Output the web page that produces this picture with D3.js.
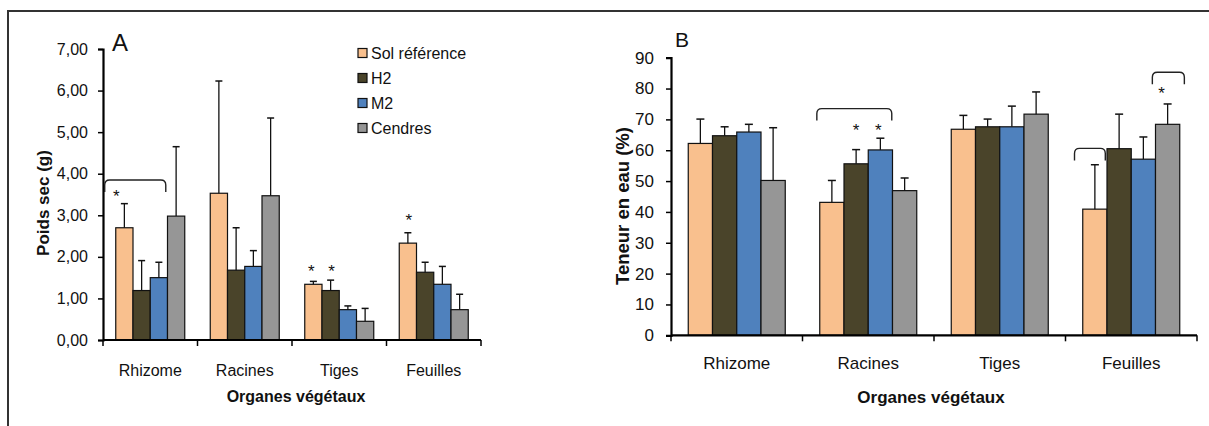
<!DOCTYPE html>
<html><head><meta charset="utf-8">
<script src="https://cdn.jsdelivr.net/npm/d3@7"></script>
<style>
body{margin:0;background:#fff;}
svg text{font-family:"Liberation Sans",Arial,sans-serif;fill:#111;}
</style></head>
<body><svg id="c" width="1209" height="426"></svg>
<script>
// ---------- DATA ----------
const categories = ["Rhizome", "Racines", "Tiges", "Feuilles"];
const seriesNames = ["Sol référence", "H2", "M2", "Cendres"];
const seriesColors = ["#F9C08E", "#4A442A", "#4F81BD", "#969696"];

// Panel A: Poids sec (g) — rows = categories, cols = series
const dryWeight = [
  [2.70, 1.19, 1.50, 2.98],
  [3.53, 1.68, 1.77, 3.47],
  [1.34, 1.19, 0.73, 0.45],
  [2.33, 1.63, 1.34, 0.73]
];
const dryWeightErrTop = [
  [3.28, 1.91, 1.87, 4.65],
  [6.23, 2.70, 2.15, 5.34],
  [1.41, 1.44, 0.82, 0.76],
  [2.58, 1.87, 1.77, 1.10]
];
const yTicksA = [0, 1, 2, 3, 4, 5, 6, 7];

// Panel B: Teneur en eau (%)
const waterContent = [
  [62.2, 64.7, 65.9, 50.2],
  [43.1, 55.6, 60.1, 46.9],
  [66.8, 67.6, 67.6, 71.7],
  [40.9, 60.5, 57.1, 68.4]
];
const waterContentErrTop = [
  [70.1, 67.6, 68.4, 67.3],
  [50.2, 60.2, 63.9, 51.0],
  [71.3, 70.1, 74.3, 78.9],
  [55.3, 71.7, 64.3, 75.0]
];
const yTicksB = [0, 10, 20, 30, 40, 50, 60, 70, 80, 90];

// significance annotations: [category, series index, level, dx]
const starsA = [["Rhizome", 0, 3.53, -8], ["Tiges", 0, 1.73, -2], ["Tiges", 1, 1.73, 1], ["Feuilles", 0, 2.96, 1]];
const starsB = [["Racines", 1, 67.5, 0], ["Racines", 2, 67.5, -2], ["Feuilles", 3, 79.5, -6]];
// brackets: [category, start (in bar widths), end (in bar widths), level]
const bracketsA = [["Rhizome", -0.64, 2.9, 3.85]];
const bracketsB = [["Racines", -0.12, 2.97, 73.5], ["Feuilles", -0.34, 0.93, 60.6], ["Feuilles", 2.87, 4.19, 85.3]];

const svg = d3.select("#c");

// outer frame (top + left)
svg.append("path").attr("d", "M8,426 L8,11 L1209,11")
  .attr("fill", "none").attr("stroke", "#333").attr("stroke-width", 2);

function panel(cfg) {
  const g = svg.append("g");
  const x = d3.scaleBand().domain(categories).range([cfg.x0, cfg.x1]).paddingInner(0).paddingOuter(0);
  const bw = x.bandwidth();
  const groupW = bw * cfg.groupFrac;
  const xs = d3.scaleBand().domain(d3.range(seriesNames.length)).range([(bw - groupW) / 2, (bw + groupW) / 2]);
  const y = d3.scaleLinear().domain(cfg.domain).range([cfg.y0, cfg.y1]);
  const barW = xs.bandwidth();

  // bars
  categories.forEach((c, ci) => {
    const grp = g.append("g").attr("transform", `translate(${x(c)},0)`);
    grp.selectAll("rect").data(cfg.values[ci]).join("rect")
      .attr("x", (d, i) => xs(i)).attr("width", barW)
      .attr("y", d => y(d)).attr("height", d => y(0) - y(d))
      .attr("fill", (d, i) => seriesColors[i])
      .attr("stroke", "#111").attr("stroke-width", 1.2);
    // error bars
    const eb = grp.selectAll("g.eb").data(cfg.errs[ci]).join("g").attr("class", "eb");
    eb.append("line")
      .attr("x1", (d, i) => xs(i) + barW / 2).attr("x2", (d, i) => xs(i) + barW / 2)
      .attr("y1", (d, i) => y(cfg.values[ci][i])).attr("y2", d => y(d))
      .attr("stroke", "#111").attr("stroke-width", 1.3);
    eb.append("line")
      .attr("x1", (d, i) => xs(i) + barW / 2 - cfg.cap).attr("x2", (d, i) => xs(i) + barW / 2 + cfg.cap)
      .attr("y1", d => y(d)).attr("y2", d => y(d))
      .attr("stroke", "#111").attr("stroke-width", 1.5);
  });

  // y axis
  const ya = d3.axisLeft(y).tickValues(cfg.ticks).tickSize(5).tickPadding(cfg.tickPad)
    .tickFormat(cfg.fmt);
  const yg = g.append("g").attr("transform", `translate(${cfg.x0},0)`).call(ya);
  yg.select(".domain").attr("stroke", "#000").attr("stroke-width", 2.2);
  yg.selectAll(".tick line").attr("stroke", "#000").attr("stroke-width", 1.5);
  yg.selectAll("text").attr("font-size", cfg.tickFont).attr("fill", "#222")
    .attr("font-family", "'Liberation Sans',Arial,sans-serif");

  // x axis: line + boundary ticks
  g.append("line").attr("x1", cfg.x0).attr("x2", cfg.x1).attr("y1", y(0)).attr("y2", y(0))
    .attr("stroke", "#000").attr("stroke-width", 2.2);
  const bounds = categories.map(c => x(c)).concat([cfg.x1]);
  g.selectAll("line.xt").data(bounds).join("line").attr("class", "xt")
    .attr("x1", d => d).attr("x2", d => d).attr("y1", y(0)).attr("y2", y(0) + 6)
    .attr("stroke", "#000").attr("stroke-width", 1.5);
  g.selectAll("text.cat").data(categories).join("text").attr("class", "cat")
    .attr("x", d => x(d) + bw / 2).attr("y", cfg.catY)
    .attr("text-anchor", "middle").attr("font-size", cfg.catFont).attr("fill", "#222").text(d => d);

  // axis titles
  g.append("text").attr("x", (cfg.x0 + cfg.x1) / 2 + cfg.xTitleDx).attr("y", cfg.xTitleY)
    .attr("text-anchor", "middle").attr("font-weight", "bold").attr("font-size", cfg.titleFont)
    .text("Organes végétaux");
  g.append("text").attr("transform", `translate(${cfg.yTitleX},${cfg.yTitleY}) rotate(-90)`)
    .attr("text-anchor", "middle").attr("font-weight", "bold").attr("font-size", cfg.yTitleFont)
    .text(cfg.yTitle);

  // panel letter
  g.append("text").attr("x", cfg.letterX).attr("y", cfg.letterY).attr("font-size", cfg.letterFont)
    .text(cfg.letter);

  // stars
  cfg.stars.forEach(([c, si, lv, dx]) => {
    g.append("text").attr("x", x(c) + xs(si) + barW / 2 + dx).attr("y", y(lv) + 9)
      .attr("text-anchor", "middle").attr("font-size", 17).text("*");
  });
  // brackets
  cfg.brackets.forEach(([c, f1, f2, lv]) => {
    const gs = x(c) + xs(0);
    const xa = gs + f1 * barW, xb = gs + f2 * barW, yt = y(lv), r = 5, h = 12;
    g.append("path")
      .attr("d", `M${xa},${yt + h} L${xa},${yt + r} Q${xa},${yt} ${xa + r},${yt} L${xb - r},${yt} Q${xb},${yt} ${xb},${yt + r} L${xb},${yt + h}`)
      .attr("fill", "none").attr("stroke", "#222").attr("stroke-width", 1.4);
  });
  return { x, xs, y };
}

panel({
  x0: 103, x1: 481, y0: 340, y1: 49, domain: [0, 7], groupFrac: 69 / 94.5,
  values: dryWeight, errs: dryWeightErrTop, ticks: yTicksA,
  fmt: d => d3.format(".2f")(d).replace(".", ","), tickPad: 10, tickFont: "16px",
  cap: 3.5, catY: 376, catFont: "16px", titleFont: "16px", xTitleY: 402, xTitleDx: 4,
  yTitleX: 49, yTitleY: 203, yTitleFont: "17px", yTitle: "Poids sec (g)",
  letter: "A", letterX: 112, letterY: 51, letterFont: "24px",
  stars: starsA, brackets: bracketsA
});

panel({
  x0: 671, x1: 1197, y0: 335.3, y1: 57.7, domain: [0, 90], groupFrac: 97 / 131.5,
  values: waterContent, errs: waterContentErrTop, ticks: yTicksB,
  fmt: d => String(d), tickPad: 12, tickFont: "17px",
  cap: 4, catY: 369, catFont: "17px", titleFont: "17px", xTitleY: 403, xTitleDx: -3,
  yTitleX: 629, yTitleY: 206, yTitleFont: "18.5px", yTitle: "Teneur en eau (%)",
  letter: "B", letterX: 675, letterY: 47, letterFont: "21px",
  stars: starsB, brackets: bracketsB
});

// legend (panel A)
const leg = svg.append("g");
seriesNames.forEach((s, i) => {
  const cy = 53 + i * 25;
  leg.append("rect").attr("x", 358).attr("y", cy - 4.5).attr("width", 9).attr("height", 9)
    .attr("fill", seriesColors[i]).attr("stroke", "#111").attr("stroke-width", 1.2);
  leg.append("text").attr("x", 371).attr("y", cy + 5.5).attr("font-size", "16px").attr("fill", "#222").text(s);
});
</script></body></html>
